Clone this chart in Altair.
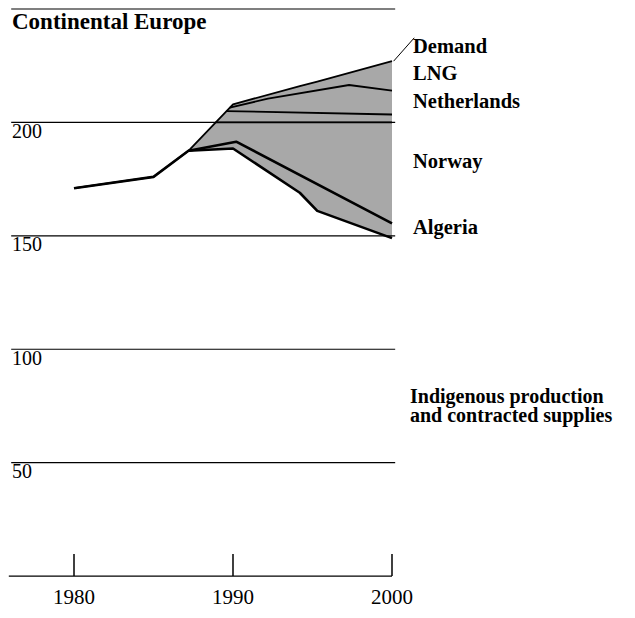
import altair as alt
import pandas as pd

TITLE = "Continental Europe"

# boundary of the shaded area
years = [1980, 1985, 1987.2, 1990, 1994.2, 1995.3, 2000]
demand = [171, 176, 187.5, 208, 216, 218, 227]
supplies = [171, 176, 187.5, 188.5, 169, 161, 149]

# band divider lines inside the shaded area
algeria_years = [1987.2, 1990.2, 2000]
algeria_top = [187.5, 191.5, 155.5]
norway_years = [1988.9, 2000]
norway_top = [200, 200]
neth_years = [1989.6, 2000]
neth_top = [205, 203.5]
lng_years = [1989.8, 1992.2, 1997.3, 2000]
lng_top = [206.5, 210.5, 216.5, 214]

grid_values = [50, 100, 150, 200, 250]
y_label_values = [50, 100, 150, 200]
x_ticks = [1980, 1990, 2000]

band_labels = ["Demand", "LNG", "Netherlands", "Norway", "Algeria"]
band_label_levels = [230.4, 218.7, 206.2, 179.8, 150.6]
supply_label = "Indigenous production\nand contracted supplies"
supply_label_level = 76.1

FONT = "Liberation Serif"

xs = alt.Scale(domain=[1975.849, 2014.780], nice=False, zero=False)
ys = alt.Scale(domain=[-14.94, 250.44], nice=False, zero=False)


def X(field=None, datum=None):
    if datum is not None:
        return alt.X(datum=datum, type="quantitative", scale=xs, axis=None)
    return alt.X(field, type="quantitative", scale=xs, axis=None)


def Y(field=None, datum=None):
    if datum is not None:
        return alt.Y(datum=datum, type="quantitative", scale=ys, axis=None)
    return alt.Y(field, type="quantitative", scale=ys, axis=None)


df_area = pd.DataFrame({"year": years, "demand": demand, "supplies": supplies})
area = alt.Chart(df_area).mark_area(color="#a8a8a8", opacity=1).encode(
    x=X("year"), y=Y("supplies"), y2="demand"
)

df_grid = pd.DataFrame({"value": grid_values})
grid = alt.Chart(df_grid).mark_rule(color="black", strokeWidth=1.2).encode(
    y=Y("value"), x=X(datum=1976.05), x2=alt.X2(datum=2000.2)
)

df_ylab = pd.DataFrame({"value": y_label_values, "label": [str(v) for v in y_label_values]})
ylab = alt.Chart(df_ylab).mark_text(
    align="left", baseline="alphabetic", dy=15.5, font=FONT, fontSize=20, color="black"
).encode(x=X(datum=1976.1), y=Y("value"), text="label:N")

xaxis = alt.Chart(df_grid.head(1)).mark_rule(color="black", strokeWidth=1.3).encode(
    y=Y(datum=0), x=X(datum=1975.9), x2=alt.X2(datum=2000)
)

df_xt = pd.DataFrame({"year": x_ticks, "label": [str(v) for v in x_ticks]})
ticks = alt.Chart(df_xt).mark_rule(color="black", strokeWidth=1.5).encode(
    x=X("year"), y=Y(datum=0), y2=alt.Y2(datum=9.7)
)
xlab = alt.Chart(df_xt).mark_text(
    align="center", baseline="alphabetic", dy=28, font=FONT, fontSize=21, color="black"
).encode(x=X("year"), y=Y(datum=0), text="label:N")


def series(name, xs_, vs_):
    return pd.DataFrame({"series": name, "year": xs_, "value": vs_, "ord": range(len(xs_))})


df_thin = pd.concat([
    series("Demand", years, demand),
    series("Norway", norway_years, norway_top),
    series("Netherlands", neth_years, neth_top),
    series("LNG", lng_years, lng_top),
])
df_thick = pd.concat([
    series("Supplies", years, supplies),
    series("Algeria", algeria_years, algeria_top),
])

thin = alt.Chart(df_thin).mark_line(color="black", strokeWidth=1.8, strokeJoin="round").encode(
    x=X("year"), y=Y("value"), detail="series:N", order="ord:Q"
)
thick = alt.Chart(df_thick).mark_line(color="black", strokeWidth=2.6, strokeJoin="round").encode(
    x=X("year"), y=Y("value"), detail="series:N", order="ord:Q"
)

df_bl = pd.DataFrame({"label": band_labels, "level": band_label_levels})
blab = alt.Chart(df_bl).mark_text(
    align="left", baseline="alphabetic", dx=21, font=FONT, fontSize=20.5,
    fontWeight="bold", color="black"
).encode(x=X(datum=2000), y=Y("level"), text="label:N")

leader = alt.Chart(df_grid.head(1)).mark_rule(color="black", strokeWidth=1).encode(
    x=X(datum=2000.1), y=Y(datum=demand[-1]), x2=alt.X2(datum=2001.4), y2=alt.Y2(datum=237.3)
)

df_sl = pd.DataFrame({"label": [supply_label], "level": [supply_label_level]})
slab = alt.Chart(df_sl).mark_text(
    align="left", baseline="alphabetic", dx=18, font=FONT, fontSize=20,
    fontWeight="bold", color="black", lineBreak="\n", lineHeight=18.5
).encode(x=X(datum=2000), y=Y("level"), text="label:N")

df_t = pd.DataFrame({"label": [TITLE]})
title = alt.Chart(df_t).mark_text(
    align="left", baseline="alphabetic", font=FONT, fontSize=23,
    fontWeight="bold", color="black"
).encode(x=X(datum=1976.1), y=Y(datum=241.2), text="label:N")

chart = alt.layer(
    area, grid, ylab, xaxis, ticks, xlab, thin, thick, blab, leader, slab, title
).properties(
    width=619, height=602, padding=0, autosize=alt.AutoSizeParams(type="none")
).configure_view(stroke=None)

chart.save("out.html", embed_options={"renderer": "svg", "actions": False})
